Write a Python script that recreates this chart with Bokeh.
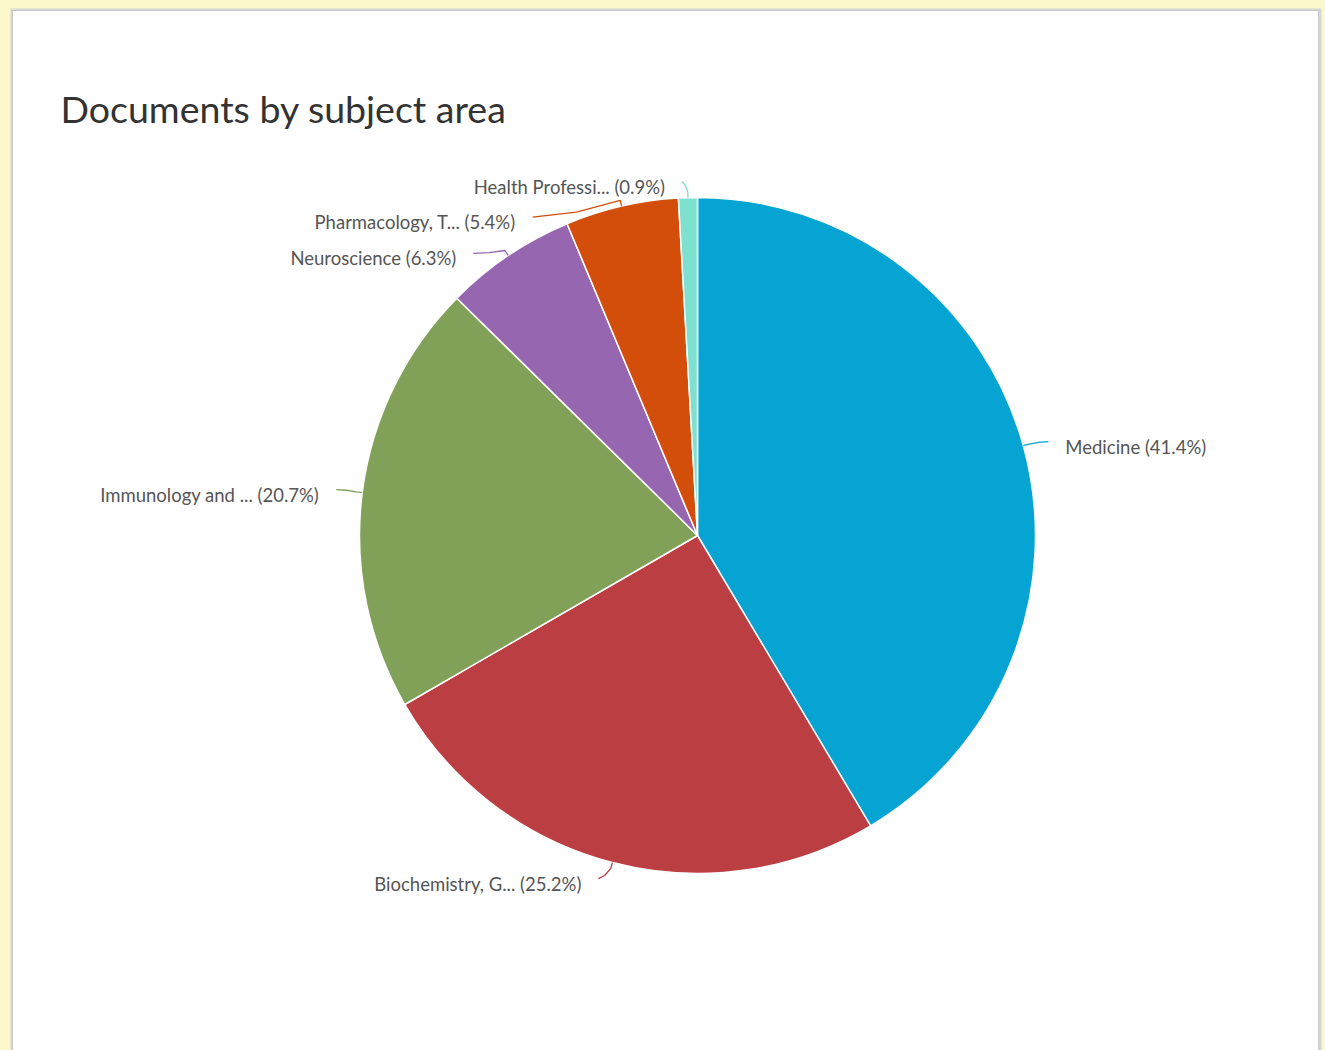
import math
from bokeh.plotting import figure
from bokeh.models import Range1d, GlobalInlineStyleSheet
from bokeh.core.properties import value
from bokeh.embed import file_html
from bokeh.resources import INLINE

# ---- data ----
categories = ["Medicine", "Biochemistry, G...", "Immunology and ...", "Neuroscience",
              "Pharmacology, T...", "Health Professi..."]
percents = [41.4, 25.2, 20.7, 6.3, 5.4, 0.9]
colors = ["#05a4d3", "#bb3e43", "#82a158", "#9766b0", "#d34e0b", "#7ee0cf"]

# ---- layout (pixels) ----
W, H = 1325, 1050
cx, cy = 697, H - 535          # pie centre
R = 338                        # pie radius
# text anchor offsets from the slice's edge midpoint (dx right, dy down)
label_offsets = [(42, 1), (-31, 21), (-43, 2), (-52, 3), (-106, 16), (-23, -11)]
label_align = ["left", "right", "right", "right", "right", "right"]

p = figure(width=W, height=H, output_backend="svg", toolbar_location=None,
           x_range=Range1d(0, W), y_range=Range1d(0, H), min_border=0,
           background_fill_color="#fbf9cc", border_fill_color="#fbf9cc")
p.axis.visible = False
p.grid.visible = False
p.outline_line_color = None
p.stylesheets = [GlobalInlineStyleSheet(css="body{background:#fbf9cc;}")]

# card with a soft shadow
p.quad(left=[10], right=[1321], bottom=[-10], top=[H - 8], fill_color="#d6d6d6",
       line_color=None)
p.quad(left=[12], right=[1318], bottom=[-10], top=[H - 10], fill_color="white",
       line_color="#c8c8c8", line_width=1)

# title
p.text(x=[60], y=[H - 108], text=["Documents by subject area"],
       text_font=value("Lato"), text_font_size="37.5px", text_color="#333333",
       text_baseline="middle", text_align="left")

total = sum(percents)
starts, ends, mids = [], [], []
cum = 0.0
for v in percents:
    a0 = math.pi / 2 - cum / total * 2 * math.pi
    cum += v
    a1 = math.pi / 2 - cum / total * 2 * math.pi
    starts.append(a0)
    ends.append(a1)
    mids.append((a0 + a1) / 2)

p.wedge(x=cx, y=cy, radius=R, start_angle=starts, end_angle=ends, direction="clock",
        fill_color=colors, line_color="white", line_width=1.5)

# labels and connectors
xs_lines, ys_lines, tx, ty, texts = [], [], [], [], []
for i, (cat, v) in enumerate(zip(categories, percents)):
    m = mids[i]
    ex, ey = cx + R * math.cos(m), cy + R * math.sin(m)
    dx, dy = label_offsets[i]
    lx, ly = ex + dx, ey - dy
    sign = 1 if label_align[i] == "left" else -1
    endx, endy = lx - sign * 17, ly + 5
    bx, by = cx + (R + 6) * math.cos(m), cy + (R + 6) * math.sin(m)
    xs_lines.append([ex, bx, 0.5 * bx + 0.5 * endx, endx])
    ys_lines.append([ey, by, 0.3 * by + 0.7 * endy, endy])
    tx.append(lx)
    ty.append(ly)
    texts.append(f"{cat} ({v}%)")

p.multi_line(xs=xs_lines, ys=ys_lines, line_color=colors, line_width=1.3)
p.text(x=tx, y=ty, text=texts, text_align=label_align, text_baseline="middle",
       text_font=value("Lato"), text_font_size="18.5px", text_color="#555555")

open("out.html", "w").write(file_html(p, INLINE))
